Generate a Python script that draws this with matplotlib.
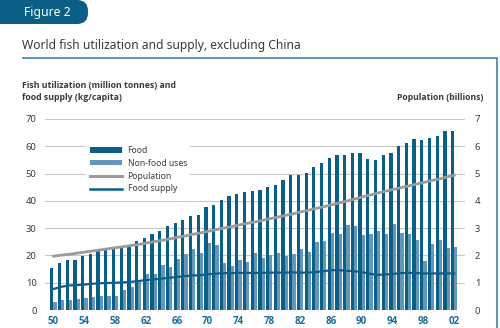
import numpy as np
import matplotlib
matplotlib.use("Agg")
import matplotlib.pyplot as plt
from matplotlib.patches import FancyBboxPatch, Patch
from matplotlib.lines import Line2D

plt.rcParams['font.family'] = ['Noto Sans', 'DejaVu Sans']

# data
years = np.arange(1950, 2003)
food = [15.3, 17.1, 18.2, 18.3, 19.8, 20.5, 21.6, 22.0, 22.8, 23.2,
        23.6, 25.2, 26.4, 27.7, 28.8, 30.7, 31.8, 33.1, 34.6, 34.8,
        37.6, 38.5, 40.3, 41.9, 42.6, 43.4, 43.7, 44.0, 45.1, 45.7,
        47.5, 49.4, 49.3, 50.3, 52.3, 53.7, 55.8, 56.8, 56.9, 57.5,
        57.5, 55.2, 55.1, 56.7, 57.5, 60.2, 61.1, 62.5, 62.2, 62.9,
        63.8, 65.5, 65.5]
nonfood = [3.0, 3.5, 3.8, 3.9, 4.3, 4.6, 5.1, 5.0, 5.2, 7.3,
           8.5, 11.0, 13.3, 13.3, 16.6, 15.9, 18.7, 20.6, 22.5, 20.9,
           24.6, 23.7, 17.3, 16.1, 18.4, 17.6, 20.8, 19.1, 20.2, 20.9,
           19.9, 20.5, 22.4, 21.3, 25.0, 25.2, 28.3, 27.8, 31.3, 30.9,
           27.4, 27.9, 28.8, 27.9, 31.6, 28.2, 27.7, 25.5, 17.8, 24.3,
           25.8, 22.6, 23.2]
supply = [7.7, 8.5, 9.0, 9.1, 9.3, 9.6, 9.8, 9.9, 10.0, 10.1,
          10.3, 10.6, 11.0, 11.2, 11.5, 11.8, 12.1, 12.4, 12.7, 12.7,
          13.1, 13.3, 13.5, 13.5, 13.6, 13.6, 13.6, 13.6, 13.7, 13.7,
          13.7, 13.8, 13.7, 13.7, 13.9, 14.2, 14.6, 14.6, 14.4, 14.2,
          13.9, 13.3, 12.9, 13.0, 13.2, 13.5, 13.6, 13.5, 13.4, 13.4,
          13.4, 13.4, 13.4]
population = [1.97, 2.01, 2.04, 2.08, 2.12, 2.16, 2.20, 2.24, 2.28, 2.32,
              2.36, 2.40, 2.45, 2.50, 2.55, 2.60, 2.66, 2.71, 2.77, 2.82,
              2.88, 2.94, 3.00, 3.05, 3.11, 3.17, 3.22, 3.28, 3.34, 3.40,
              3.46, 3.52, 3.59, 3.65, 3.72, 3.78, 3.85, 3.92, 3.99, 4.06,
              4.14, 4.21, 4.28, 4.35, 4.41, 4.48, 4.54, 4.61, 4.67, 4.74,
              4.80, 4.87, 4.94]
tick_years = np.arange(1950, 2003, 4)
tick_labels = ["%02d" % (y % 100) for y in tick_years]

dark = '#0b5f87'
light = '#6396bb'
grey = '#9b9b9b'
txt = '#3a3a3a'
bold_font = ['Open Sans', 'DejaVu Sans']

W, H = 500, 328
fig = plt.figure(figsize=(W / 100, H / 100), dpi=100)

# overlay in pixel coordinates for the page decoration
deco = fig.add_axes([0, 0, 1, 1])
deco.set_xlim(0, W)
deco.set_ylim(H, 0)
deco.axis('off')
deco.add_patch(FancyBboxPatch((-20, 0), 108, 24, boxstyle="round,pad=0,rounding_size=11",
                              fc=dark, ec='none'))
deco.text(24, 12.5, "Figure 2", color='white', fontsize=8.8, va='center', ha='left')
deco.text(22, 45, "World fish utilization and supply, excluding China", color=txt,
          fontsize=8.7, va='center', ha='left')
deco.plot([22, 497, 497], [57.5, 57.5, 330], color='#3d84a8', lw=1.2, solid_capstyle='butt')
deco.text(22, 91.5, "Fish utilization (million tonnes) and\nfood supply (kg/capita)", color=txt,
          fontsize=6.3, fontweight='bold', family=bold_font, va='center', ha='left',
          linespacing=1.35)
deco.text(483, 97.5, "Population (billions)", color=txt, fontsize=6.2, fontweight='bold',
          family=bold_font, va='center', ha='right')

ax = fig.add_axes([45 / W, 1 - 310 / H, 420 / W, 191 / H])
ax.bar(years - 0.21, food, width=0.42, color=dark, zorder=2)
ax.bar(years + 0.21, nonfood, width=0.42, color=light, zorder=2)
ax.plot(years, supply, color=dark, lw=1.6, zorder=3)
ax.set_xlim(1948.9, 2003.4)
ax.set_ylim(0, 70)
ax.set_yticks(np.arange(0, 71, 10))
ax.grid(axis='y', color='#c8c8c8', lw=0.8, zorder=0)
ax.set_axisbelow(True)
for s in ax.spines.values():
    s.set_visible(False)
ax.set_xticks(tick_years)
ax.set_xticklabels(tick_labels, fontsize=7, fontweight='bold', family=bold_font,
                   color='#1f6d96')
ax.tick_params(axis='x', length=0, pad=4.5)
ax.tick_params(axis='y', length=0, pad=6, labelsize=6.8, labelcolor=txt)

ax2 = ax.twinx()
ax2.plot(years, population, color=grey, lw=2, zorder=3)
ax2.set_ylim(0, 7)
ax2.set_yticks(np.arange(0, 8, 1))
ax2.tick_params(axis='y', length=0, pad=7, labelsize=6.8, labelcolor=txt)
for s in ax2.spines.values():
    s.set_visible(False)

handles = [Patch(fc=dark, ec='none'), Patch(fc=light, ec='none'),
           Line2D([], [], color=grey, lw=2.2), Line2D([], [], color=dark, lw=1.8)]
leg = ax2.legend(handles, ["Food", "Non-food uses", "Population", "Food supply"],
                 loc='upper left', bbox_to_anchor=(0.088, 0.90), fontsize=6.2,
                 handlelength=3.7, handleheight=0.6, handletextpad=0.7,
                 labelspacing=0.45, frameon=True, borderpad=0.4, fancybox=False)
leg.get_frame().set_facecolor('white')
leg.get_frame().set_edgecolor('none')
leg.get_frame().set_alpha(1)
for t in leg.get_texts():
    t.set_color(txt)

fig.savefig("out.png", dpi=100)
